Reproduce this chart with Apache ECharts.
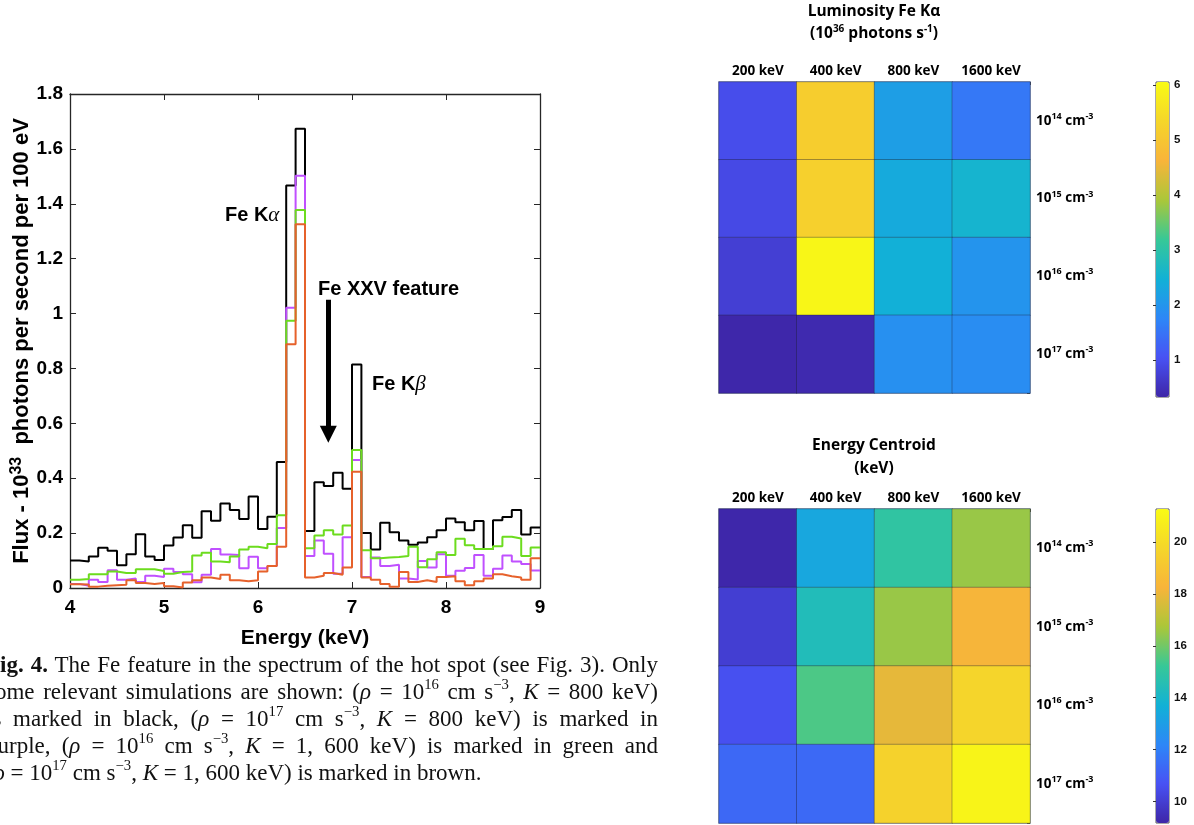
<!DOCTYPE html>
<html><head><meta charset="utf-8">
<script src="https://cdn.jsdelivr.net/npm/echarts@6/dist/echarts.min.js"></script>
<style>
html,body{margin:0;padding:0;background:#fff;overflow:hidden;width:1194px;height:825px}
#chart{position:absolute;left:0;top:0;width:1194px;height:825px}
#caption{position:absolute;left:-14px;top:651px;width:672px;font-family:"Liberation Serif","Times New Roman",serif;font-size:23px;line-height:27px;color:#111}
#caption div{white-space:nowrap}
#caption .j{text-align:justify;text-align-last:justify}
#caption sup{font-size:0.64em;line-height:0;position:relative;top:-0.1em}
</style></head>
<body>
<div id="chart"></div>
<div id="caption">
<div class="j"><b>Fig. 4.</b> The Fe feature in the spectrum of the hot spot (see Fig. 3). Only</div>
<div class="j">some relevant simulations are shown: (<i>ρ</i> = 10<sup>16</sup> cm s<sup>−3</sup>, <i>K</i> = 800 keV)</div>
<div class="j">is marked in black, (<i>ρ</i> = 10<sup>17</sup> cm s<sup>−3</sup>, <i>K</i> = 800 keV) is marked in</div>
<div class="j">purple, (<i>ρ</i> = 10<sup>16</sup> cm s<sup>−3</sup>, <i>K</i> = 1, 600 keV) is marked in green and</div>
<div>(<i>ρ</i> = 10<sup>17</sup> cm s<sup>−3</sup>, <i>K</i> = 1, 600 keV) is marked in brown.</div>
</div>
<script>
// ---- Spectrum data (bin left edges, 100 eV bins) ----
const energyEdges = [4.0,4.1,4.2,4.3,4.4,4.5,4.6,4.7,4.8,4.9,5.0,5.1,5.2,5.3,5.4,5.5,5.6,5.7,5.8,5.9,
  6.0,6.1,6.2,6.3,6.4,6.5,6.6,6.7,6.8,6.9,7.0,7.1,7.2,7.3,7.4,7.5,7.6,7.7,7.8,7.9,
  8.0,8.1,8.2,8.3,8.4,8.5,8.6,8.7,8.8,8.9,9.0];
const fluxBlack = [0.100,0.097,0.115,0.147,0.136,0.083,0.123,0.196,0.115,0.102,
  0.155,0.184,0.229,0.183,0.280,0.245,0.308,0.284,0.251,0.333,
  0.215,0.260,0.459,1.467,1.673,0.208,0.385,0.372,0.420,0.362,
  0.814,0.200,0.140,0.238,0.203,0.173,0.158,0.166,0.185,0.210,
  0.253,0.240,0.210,0.244,0.142,0.247,0.259,0.284,0.195,0.220];
const fluxPurple = [0.015,0.008,0.030,0.022,0.065,0.030,0.035,0.022,0.045,0.040,
  0.070,0.058,0.050,0.021,0.048,0.142,0.122,0.120,0.072,0.114,
  0.072,0.080,0.219,1.021,1.502,0.117,0.173,0.125,0.052,0.185,
  0.466,0.040,0.111,0.080,0.085,0.035,0.031,0.098,0.075,0.123,
  0.045,0.063,0.073,0.120,0.045,0.070,0.118,0.097,0.087,0.064];
const fluxGreen = [0.030,0.033,0.050,0.050,0.060,0.055,0.055,0.068,0.068,0.062,
  0.052,0.058,0.060,0.118,0.128,0.097,0.094,0.115,0.140,0.150,
  0.145,0.160,0.265,0.974,1.377,0.145,0.191,0.210,0.195,0.228,
  0.503,0.138,0.108,0.111,0.113,0.117,0.150,0.076,0.105,0.130,
  0.120,0.179,0.156,0.142,0.142,0.152,0.187,0.180,0.117,0.148];
const fluxBrown = [0.014,0.013,0.005,0.008,0.010,0.012,0.028,0.018,0.015,0.018,
  0.006,0.002,0.020,0.028,0.038,0.033,0.048,0.028,0.025,0.028,
  0.060,0.080,0.150,0.888,1.325,0.038,0.045,0.055,0.048,0.075,
  0.424,0.038,0.030,0.015,0.005,0.058,0.022,0.028,0.022,0.040,
  0.043,0.025,0.010,0.025,0.035,0.050,0.043,0.038,0.030,0.108];

// ---- Heatmap data ----
const kEnergies = ['200 keV','400 keV','800 keV','1600 keV'];
const densityExp = ['14','15','16','17'];
const lumRow14 = [0.96, 5.15, 2.15, 1.56];
const lumRow15 = [0.90, 5.20, 2.35, 2.56];
const lumRow16 = [0.73, 5.95, 2.45, 1.98];
const lumRow17 = [0.35, 0.40, 1.91, 1.87];
const centRow14 = [9.20, 13.35, 14.96, 16.50];
const centRow15 = [10.00, 14.40, 16.50, 18.20];
const centRow16 = [10.60, 15.50, 17.90, 19.70];
const centRow17 = [11.30, 11.35, 19.60, 21.00];
const lumRange = [0.33, 6.05];
const centRange = [9.17, 21.27];
const lumTicks = [1,2,3,4,5,6];
const centTicks = [10,12,14,16,18,20];

const parula = ['#3e26a8','#4852f4','#2d87f7','#11b1d6','#37c897','#abc739','#f8b43a','#f5d62a','#f9fb14'];

function stairs(vals){
  const d = vals.map((v,i)=>[energyEdges[i], v]);
  d.push([energyEdges[vals.length], vals[vals.length-1]]);
  return d;
}
function grid2(rows){
  const out = [];
  rows.forEach((r,ri)=>r.forEach((v,ci)=>out.push([ci,ri,v])));
  return out;
}

const F = '"Liberation Sans", Arial, Helvetica, sans-serif';
const FO = '"Open Sans", "Liberation Sans", sans-serif';
const axisCol = '#262626';
const tickLbl = {color:'#000', fontFamily:F, fontWeight:'bold', fontSize:19};

const chart = echarts.init(document.getElementById('chart'), null, {renderer:'canvas'});

function lineSeries(vals, color, z, extra){
  return Object.assign({
    type:'line', xAxisIndex:0, yAxisIndex:0, step:'end', data:stairs(vals),
    symbol:'none', showSymbol:false, z:z, animation:false,
    lineStyle:{color:color, width:2}, itemStyle:{color:color}
  }, extra||{});
}

const heatLabelRich = {
  b:{fontFamily:FO, fontWeight:'bold', fontSize:13.5, color:'#000', lineHeight:18},
  s:{fontFamily:FO, fontWeight:'bold', fontSize:9, color:'#000', verticalAlign:'top', lineHeight:10}
};
function heatAxes(gridIndex){
  return {
    x:{type:'category', gridIndex:gridIndex, data:kEnergies, position:'top',
      axisLine:{show:false}, axisTick:{show:true, inside:true, length:3, lineStyle:{color:'#444'}},
      axisLabel:{color:'#000', fontFamily:FO, fontWeight:'bold', fontSize:13.5, margin:4},
      splitLine:{show:false}},
    y:{type:'category', gridIndex:gridIndex, data:densityExp, inverse:true, position:'right',
      axisLine:{show:false}, axisTick:{show:true, inside:true, length:3, lineStyle:{color:'#444'}},
      axisLabel:{margin:6, formatter:(v)=>'{b|10}{s|'+v+'}{b| cm}{s|-3}', rich:heatLabelRich},
      splitLine:{show:false}}
  };
}
const h1 = heatAxes(1), h2 = heatAxes(2);

function cbAxis(gridIndex, range, ticks){
  return {type:'value', gridIndex:gridIndex, min:range[0], max:range[1], position:'right',
    axisLine:{show:false},
    axisTick:{show:true, inside:true, length:3, customValues:ticks, lineStyle:{color:'#333'}},
    axisLabel:{show:true, customValues:ticks, color:'#111', fontFamily:F, fontWeight:'bold', fontSize:11.5, margin:5},
    splitLine:{show:false}};
}

const titleRich = {
  t:{fontFamily:FO, fontWeight:'bold', fontSize:15.5, color:'#000', lineHeight:20},
  s:{fontFamily:FO, fontWeight:'bold', fontSize:10, color:'#000', verticalAlign:'top', lineHeight:11}
};
const annRich = {
  b:{fontFamily:F, fontWeight:'bold', fontSize:20, color:'#000'},
  g:{fontFamily:'"Liberation Serif", serif', fontStyle:'italic', fontSize:21, color:'#000'}
};

const option = {
  animation:false,
  backgroundColor:'#fff',
  grid:[
    {left:70, top:94, width:470, height:494, show:false},
    {left:719, top:82, width:311, height:311, show:true, borderColor:'#8a96b4', borderWidth:1.5, backgroundColor:'transparent'},
    {left:719, top:509, width:311, height:314, show:true, borderColor:'#8a96b4', borderWidth:1.5, backgroundColor:'transparent'},
    {left:1156, top:82, width:13, height:315, show:true, borderColor:'#555', borderWidth:1, backgroundColor:'transparent'},
    {left:1156, top:509, width:13, height:314, show:true, borderColor:'#555', borderWidth:1, backgroundColor:'transparent'}
  ],
  xAxis:[
    {type:'value', gridIndex:0, min:4, max:9, interval:1, position:'bottom',
      axisLine:{show:true, onZero:false, lineStyle:{color:axisCol, width:1.3}},
      axisTick:{show:true, inside:true, length:6, lineStyle:{color:axisCol}},
      axisLabel:Object.assign({margin:10}, tickLbl),
      splitLine:{show:false},
      name:'Energy (keV)', nameLocation:'middle', nameGap:40,
      nameTextStyle:{color:'#000', fontFamily:F, fontWeight:'bold', fontSize:21}},
    {type:'value', gridIndex:0, min:4, max:9, interval:1, position:'top',
      axisLine:{show:true, onZero:false, lineStyle:{color:axisCol, width:1.3}},
      axisTick:{show:true, inside:true, length:6, lineStyle:{color:axisCol}},
      axisLabel:{show:false}, splitLine:{show:false}},
    h1.x, h2.x,
    {type:'value', gridIndex:3, min:0, max:1, show:false},
    {type:'value', gridIndex:4, min:0, max:1, show:false}
  ],
  yAxis:[
    {type:'value', gridIndex:0, min:0, max:1.8, interval:0.2, position:'left',
      axisLine:{show:true, onZero:false, lineStyle:{color:axisCol, width:1.3}},
      axisTick:{show:true, inside:true, length:6, lineStyle:{color:axisCol}},
      axisLabel:Object.assign({margin:7}, tickLbl),
      splitLine:{show:false},
      name:'{b|Flux - 10}{s|33}{b|  photons per second per 100 eV}',
      nameLocation:'middle', nameGap:34, nameRotate:90,
      nameTextStyle:{rich:{
        b:{fontFamily:F, fontWeight:'bold', fontSize:22, color:'#000', lineHeight:27},
        s:{fontFamily:F, fontWeight:'bold', fontSize:16, color:'#000', verticalAlign:'top', lineHeight:15}
      }}},
    {type:'value', gridIndex:0, min:0, max:1.8, interval:0.2, position:'right',
      axisLine:{show:true, onZero:false, lineStyle:{color:axisCol, width:1.3}},
      axisTick:{show:true, inside:true, length:6, lineStyle:{color:axisCol}},
      axisLabel:{show:false}, splitLine:{show:false}},
    h1.y, h2.y,
    cbAxis(3, lumRange, lumTicks),
    cbAxis(4, centRange, centTicks)
  ],
  visualMap:[
    {type:'continuous', seriesIndex:4, min:lumRange[0], max:lumRange[1], calculable:false,
      orient:'vertical', left:1156, top:82, itemWidth:13, itemHeight:315, padding:0,
      hoverLink:false, inRange:{color:parula}},
    {type:'continuous', seriesIndex:5, min:centRange[0], max:centRange[1], calculable:false,
      orient:'vertical', left:1156, top:509, itemWidth:13, itemHeight:314, padding:0,
      hoverLink:false, inRange:{color:parula}}
  ],
  series:[
    lineSeries(fluxBlack, '#000000', 2, {
      markLine:{silent:true, animation:false, symbol:['none','triangle'], symbolSize:17,
        label:{show:false}, lineStyle:{color:'#000', width:5, type:'solid'},
        itemStyle:{color:'#000'},
        data:[[{coord:[6.748,1.05]},{coord:[6.748,0.56]}]]}
    }),
    lineSeries(fluxPurple, '#c050ff', 3),
    lineSeries(fluxGreen, '#6cdc1e', 4),
    lineSeries(fluxBrown, '#e6612b', 5),
    {type:'heatmap', xAxisIndex:2, yAxisIndex:2, data:grid2([lumRow14,lumRow15,lumRow16,lumRow17]),
      itemStyle:{borderColor:'rgba(30,30,50,0.35)', borderWidth:1}, emphasis:{disabled:true}},
    {type:'heatmap', xAxisIndex:3, yAxisIndex:3, data:grid2([centRow14,centRow15,centRow16,centRow17]),
      itemStyle:{borderColor:'rgba(30,30,50,0.35)', borderWidth:1}, emphasis:{disabled:true}}
  ],
  graphic:[
    {type:'text', x:225, y:215, style:{text:'{b|Fe K}{g|α}', rich:annRich, verticalAlign:'middle'}},
    {type:'text', x:318, y:289, style:{text:'{b|Fe XXV feature}', rich:annRich, verticalAlign:'middle'}},
    {type:'text', x:372, y:384, style:{text:'{b|Fe K}{g|β}', rich:annRich, verticalAlign:'middle'}},
    {type:'text', x:874, y:12, style:{text:'{t|Luminosity Fe Kα}', rich:titleRich, align:'center', verticalAlign:'middle'}},
    {type:'text', x:874, y:34, style:{text:'{t|(10}{s|36}{t| photons s}{s|-1}{t|)}', rich:titleRich, align:'center', verticalAlign:'middle'}},
    {type:'text', x:874, y:446, style:{text:'{t|Energy Centroid}', rich:titleRich, align:'center', verticalAlign:'middle'}},
    {type:'text', x:874, y:469, style:{text:'{t|(keV)}', rich:titleRich, align:'center', verticalAlign:'middle'}}
  ]
};
chart.setOption(option);
</script>
</body></html>
